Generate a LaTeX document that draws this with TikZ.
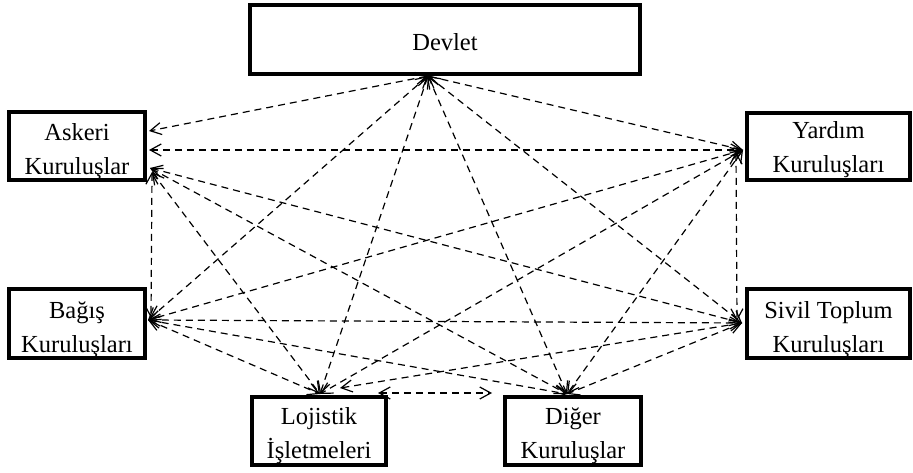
\documentclass[tikz,border=0pt]{standalone}
\usepackage{fontspec}
\setmainfont{Liberation Serif}
\usetikzlibrary{arrows.meta}
\begin{document}
\begin{tikzpicture}[x=1pt,y=-1pt,
  box/.style={draw, line width=4pt, inner sep=0pt},
  tlab/.style={font=\fontsize{24.5}{34}\selectfont, align=center, inner sep=0pt},
  conn/.style={line width=1.2pt, dash pattern=on 7pt off 5pt,
    {Straight Barb[length=11pt,width=12pt]}-{Straight Barb[length=11pt,width=12pt]}}]
\useasboundingbox (0,0) rectangle (913,473);
\fill[white] (0,0) rectangle (913,473);
% boxes
\node[box, minimum width=390pt, minimum height=69pt,
  label={[tlab, yshift=-3pt]center:Devlet}] (dev) at (445,39.5) {};
\node[box, minimum width=136pt, minimum height=68pt,
  label={[tlab, yshift=-6pt]center:Askeri\\Kuruluşlar}] (ask) at (77,146) {};
\node[box, minimum width=163pt, minimum height=67pt,
  label={[tlab, yshift=-3pt]center:Yardım\\Kuruluşları}] (yar) at (828.5,147) {};
\node[box, minimum width=136pt, minimum height=69pt,
  label={[tlab, yshift=-6pt]center:Bağış\\Kuruluşları}] (bag) at (77,323.5) {};
\node[box, minimum width=163pt, minimum height=69pt,
  label={[tlab, yshift=-6pt]center:Sivil Toplum\\Kuruluşları}] (siv) at (828.5,323.5) {};
\node[box, minimum width=134pt, minimum height=68pt,
  label={[tlab, yshift=-5pt]center:Lojistik\\İşletmeleri}] (loj) at (319,431) {};
\node[box, minimum width=136pt, minimum height=68pt,
  label={[tlab, yshift=-5pt]center:Diğer\\Kuruluşlar}] (dig) at (573,431) {};
% connector ends
\coordinate (dP) at (428,76);
\coordinate (aD) at (149,131);
\coordinate (aY) at (149,150);
\coordinate (aX) at (150,168);
\coordinate (aL) at (152,172);
\coordinate (aV) at (152,172);
\coordinate (yP) at (743,150);
\coordinate (yV) at (736,152);
\coordinate (bP) at (148,320);
\coordinate (bV) at (151,318);
\coordinate (sP) at (742,323);
\coordinate (sV) at (737,321);
\coordinate (lP) at (320,394);
\coordinate (lS) at (340,388);
\coordinate (lG) at (378,393);
\coordinate (gP) at (567,394);
\coordinate (gL) at (492,393);
% connectors
\draw[conn] (dP) -- (aD);
\draw[conn] (dP) -- (yP);
\draw[conn] (dP) -- (bP);
\draw[conn] (dP) -- (sP);
\draw[conn] (dP) -- (lP);
\draw[conn] (dP) -- (gP);
\draw[conn] (aY) -- (yP);
\draw[conn] (aV) -- (bV);
\draw[conn] (aX) -- (sP);
\draw[conn] (aX) -- (gP);
\draw[conn] (aL) -- (lP);
\draw[conn] (yP) -- (bP);
\draw[conn] (yV) -- (sV);
\draw[conn] (yP) -- (lP);
\draw[conn] (yP) -- (gP);
\draw[conn] (bP) -- (sP);
\draw[conn] (bP) -- (lP);
\draw[conn] (bP) -- (gP);
\draw[conn] (sP) -- (lS);
\draw[conn] (sP) -- (gP);
\draw[conn] (lG) -- (gL);
\end{tikzpicture}
\end{document}
